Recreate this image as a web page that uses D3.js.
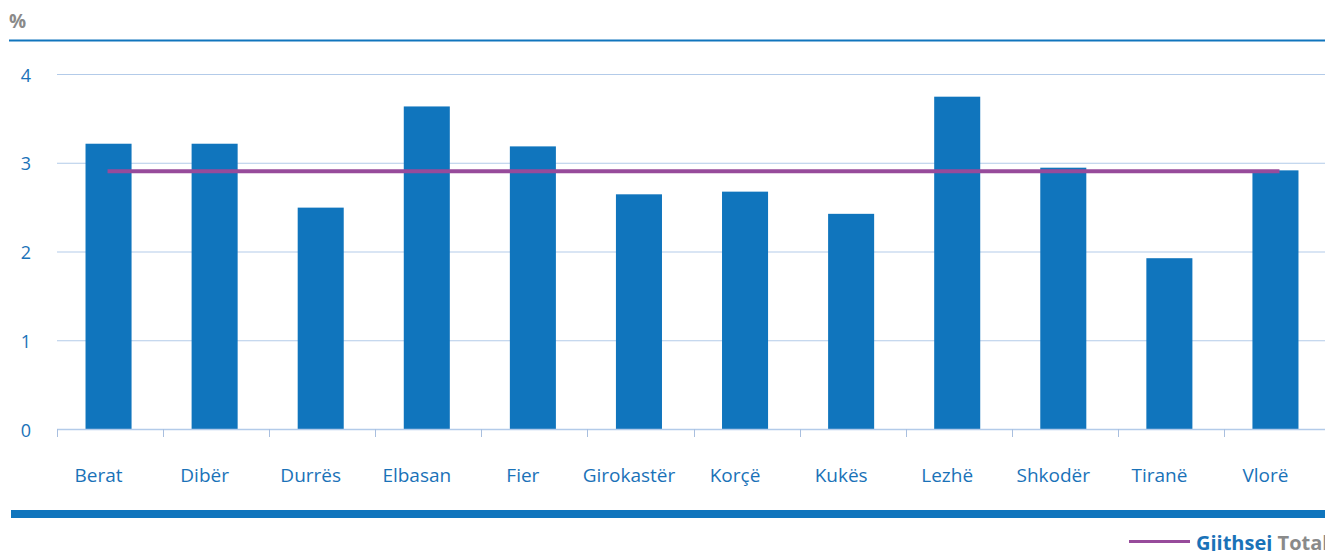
<!DOCTYPE html>
<html><head><meta charset="utf-8">
<script src="https://cdn.jsdelivr.net/npm/d3@7"></script>
<style>body{margin:0;background:#fff}svg{display:block}</style>
</head><body>
<svg id="c" width="1325" height="551"></svg>
<script>
const categories = ["Berat","Dibër","Durrës","Elbasan","Fier","Girokastër","Korçë","Kukës","Lezhë","Shkodër","Tiranë","Vlorë"];
const values = [3.22,3.22,2.50,3.64,3.19,2.65,2.68,2.43,3.75,2.95,1.93,2.92];
const total = 2.91;
const yTicks = [0,1,2,3,4];
const unitLabel = "%";
const legendLabels = ["Gjithsej","Total"];

const svg = d3.select("#c");
const font = "'Open Sans', 'Noto Sans', sans-serif";
const blue = "#1075bd", purple = "#974b9b", grid = "#b3cbe9", textBlue = "#1a72b8";

const x = d3.scaleBand().domain(categories).range([55.5, 1328.5]).paddingInner(0.566).paddingOuter(0.283);
const y = d3.scaleLinear().domain([0,4]).range([429.5, 74.5]);

// top rule and unit label
svg.append("line").attr("x1",9).attr("x2",1325).attr("y1",40.5).attr("y2",40.5).attr("stroke",blue).attr("stroke-width",2);
svg.append("text").attr("x",9).attr("y",28).text(unitLabel).attr("font-family",font).attr("font-weight","bold").attr("font-size",19).attr("fill","#8a8a8a");

// grid
svg.append("g").selectAll("line").data(yTicks.filter(d=>d>0)).join("line")
  .attr("x1",57).attr("x2",1325).attr("y1",d=>y(d)).attr("y2",d=>y(d)).attr("stroke",grid).attr("stroke-width",1);

// y labels
svg.append("g").selectAll("text").data(yTicks).join("text")
  .attr("x",26).attr("y",d=>y(d)+7).attr("text-anchor","middle").text(d=>d)
  .attr("font-family",font).attr("font-size",18).attr("fill",textBlue);

// bars
svg.append("g").selectAll("rect").data(values).join("rect")
  .attr("x",(d,i)=>x(categories[i])).attr("width",x.bandwidth())
  .attr("y",d=>y(d)).attr("height",d=>y(0)-y(d)).attr("fill",blue);

// x axis baseline & ticks
const step = x.step();
const x0 = 57;
svg.append("line").attr("x1",57).attr("x2",1325).attr("y1",429.5).attr("y2",429.5).attr("stroke",grid).attr("stroke-width",1.5);
svg.append("g").selectAll("line").data(d3.range(categories.length)).join("line")
  .attr("x1",i=>Math.round(x0+i*step)+0.5).attr("x2",i=>Math.round(x0+i*step)+0.5)
  .attr("y1",429).attr("y2",437).attr("stroke","#a9bfdf").attr("stroke-width",1);

// x labels
svg.append("g").selectAll("text").data(categories).join("text")
  .attr("x",d=>x(d)+x.bandwidth()/2-10).attr("y",482).attr("text-anchor","middle").text(d=>d)
  .attr("font-family",font).attr("font-size",19).attr("fill",textBlue);

// total line
svg.append("line")
  .attr("x1",x(categories[0])+x.bandwidth()/2-1).attr("x2",x(categories[categories.length-1])+x.bandwidth()/2+4)
  .attr("y1",y(total)).attr("y2",y(total)).attr("stroke",purple).attr("stroke-width",4);

// bottom band
svg.append("rect").attr("x",11).attr("y",510).attr("width",1314).attr("height",8).attr("fill",blue);

// legend
svg.append("line").attr("x1",1129).attr("x2",1190).attr("y1",541.5).attr("y2",541.5).attr("stroke",purple).attr("stroke-width",3);
const lt = svg.append("text").attr("x",1196).attr("y",550).attr("font-family",font).attr("font-weight","bold").attr("font-size",20);
lt.append("tspan").text(legendLabels[0]).attr("fill",textBlue);
lt.append("tspan").text(" "+legendLabels[1]).attr("fill","#8a8a8a");
</script>
</body></html>
